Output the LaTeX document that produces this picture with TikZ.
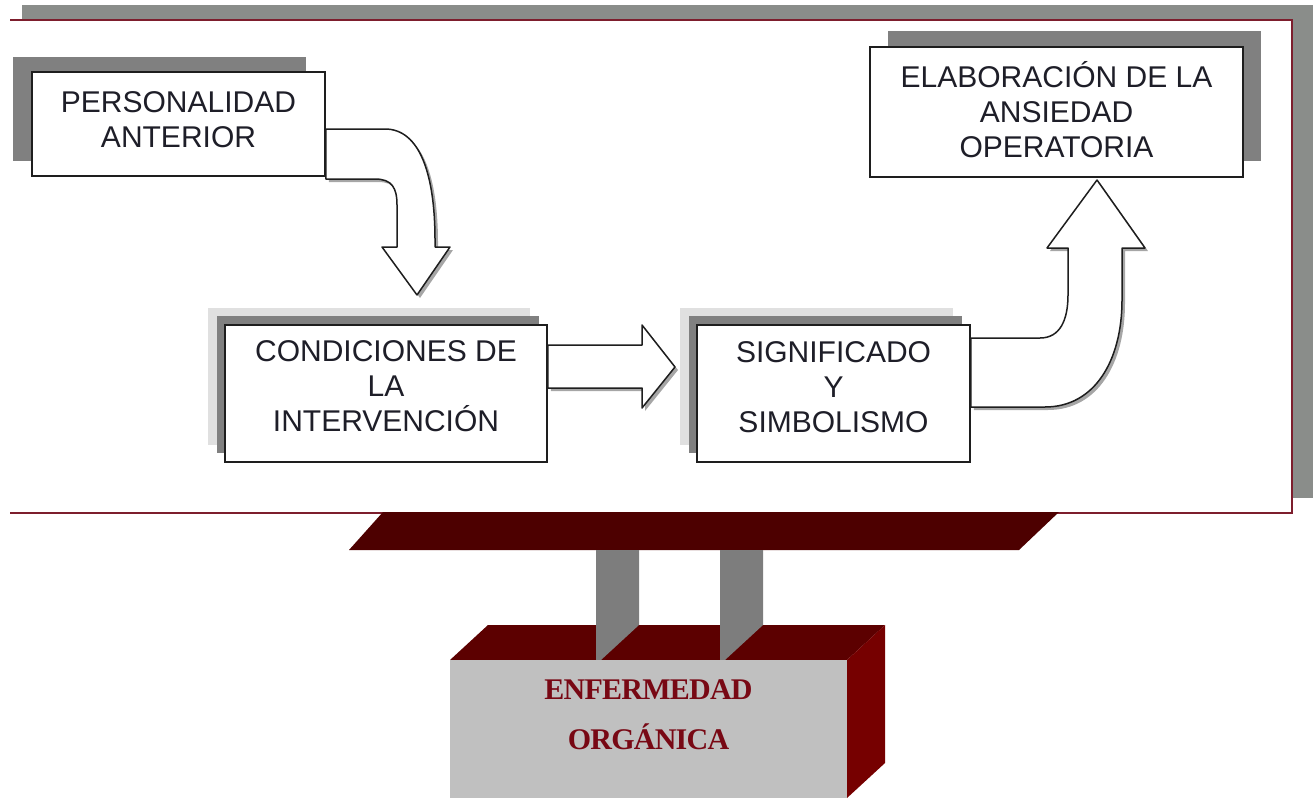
\documentclass[tikz,border=0pt]{standalone}
\usepackage{fontspec}
\setmainfont{Liberation Sans}
\newfontfamily\serifont[LetterSpace=-2.5]{Liberation Serif}
\usetikzlibrary{shadows,calc}
\definecolor{framegray}{RGB}{138,141,138}
\definecolor{framered}{RGB}{125,30,45}
\definecolor{shadowdark}{RGB}{128,128,128}
\definecolor{shadowlight}{RGB}{224,224,224}
\definecolor{boxline}{RGB}{30,30,30}
\definecolor{textdark}{RGB}{30,30,40}
\definecolor{platform}{RGB}{77,0,0}
\definecolor{topface}{RGB}{92,0,0}
\definecolor{sideface}{RGB}{118,0,0}
\definecolor{frontface}{RGB}{192,192,192}
\definecolor{pillar}{RGB}{125,125,125}
\definecolor{textred}{RGB}{120,8,20}
\begin{document}
\begin{tikzpicture}[x=1pt,y=-1pt,
  box/.style={draw=boxline, line width=1.5pt, fill=white, inner sep=0pt},
  boxtext/.style={font=\fontsize{30}{35}\selectfont, text=textdark, align=center, inner sep=0pt},
  blockarrow/.style={draw=boxline, line width=1.5pt, fill=white, line join=round,
    drop shadow={shadow xshift=3pt, shadow yshift=-3pt, fill=black, opacity=0.35}},
  redtext/.style={font=\serifont\bfseries\fontsize{30}{32}\selectfont, text=textred, inner sep=0pt}]
\useasboundingbox (0,0) rectangle (1313,800);
% frame
\fill[framegray] (22,5) rectangle (1313,498);
\fill[white] (10,20) rectangle (1292,513);
\draw[framered, line width=1.8pt] (10,20) -- (1292,20) -- (1292,513) -- (10,513);
% box shadows
\fill[shadowdark] (13,57) rectangle (306,161);
\fill[shadowdark] (888,31) rectangle (1261,161);
\fill[shadowlight] (208,308) rectangle (530,445);
\fill[shadowdark] (217,316) rectangle (539,453);
\fill[shadowlight] (680,308) rectangle (953,445);
\fill[shadowdark] (689,316) rectangle (962,453);
% boxes
\node[box, minimum width=293pt, minimum height=104pt] (pers) at (178.5,124) {};
\node[boxtext] (persT) at ([yshift=4pt]pers.center) {PERSONALIDAD\\ANTERIOR};
\node[box, minimum width=322pt, minimum height=137pt] (cond) at (386,393.5) {};
\node[boxtext] (condT) at ([yshift=7pt]cond.center) {CONDICIONES DE\\LA\\INTERVENCIÓN};
\node[box, minimum width=273pt, minimum height=137pt] (sig) at (833.5,393.5) {};
\node[boxtext] (sigT) at ([yshift=6pt]sig.center) {SIGNIFICADO\\Y\\SIMBOLISMO};
\node[box, minimum width=373pt, minimum height=130pt] (elab) at (1056.5,112) {};
\node[boxtext] (elabT) at ([yshift=2pt]elab.center) {ELABORACIÓN DE LA\\ANSIEDAD\\OPERATORIA};
% arrows
\filldraw[blockarrow] (pers.east |- 0,129) -- (385,129) .. controls (420,129) and (435,175) .. (435,240)
  -- (435,247) -- (450,247) -- (417,295) -- (382,247) -- (397,247) -- (397,205)
  .. controls (397,188) and (392,179) .. (375,179) -- (pers.east |- 0,179) -- cycle;
\filldraw[blockarrow] (cond.east |- 0,345) -- (642,345) -- (642,325) -- (675,367) -- (642,408)
  -- (642,388) -- (cond.east |- 0,388) -- cycle;
\filldraw[blockarrow] (sig.east |- 0,338) -- (1040,338) .. controls (1060,338) and (1068,320) .. (1068,295)
  -- (1068,248) -- (1047,248) -- (1097,180) -- (1145,248) -- (1122,248) -- (1122,300)
  .. controls (1122,360) and (1095,407) .. (1045,407) -- (sig.east |- 0,407) -- cycle;
% platform and organic disease block
\fill[platform] (383,512) -- (1059,512) -- (1019,550) -- (349,550) -- cycle;
\fill[topface] (488,625) -- (885,625) -- (847,660) -- (450,660) -- cycle;
\fill[pillar] (596,550) -- (639,550) -- (639,625) -- (601,660) -- (596,660) -- cycle;
\fill[pillar] (720,550) -- (763,550) -- (763,625) -- (725,660) -- (720,660) -- cycle;
\fill[frontface] (450,660) rectangle (847,798);
\fill[sideface] (847,660) -- (885,625) -- (885,763) -- (847,798) -- cycle;
\node[redtext] (enf1) at (648.5,690) {ENFERMEDAD};
\node[redtext] (enf2) at (648.5,737) {ORGÁNICA};
\end{tikzpicture}
\end{document}
